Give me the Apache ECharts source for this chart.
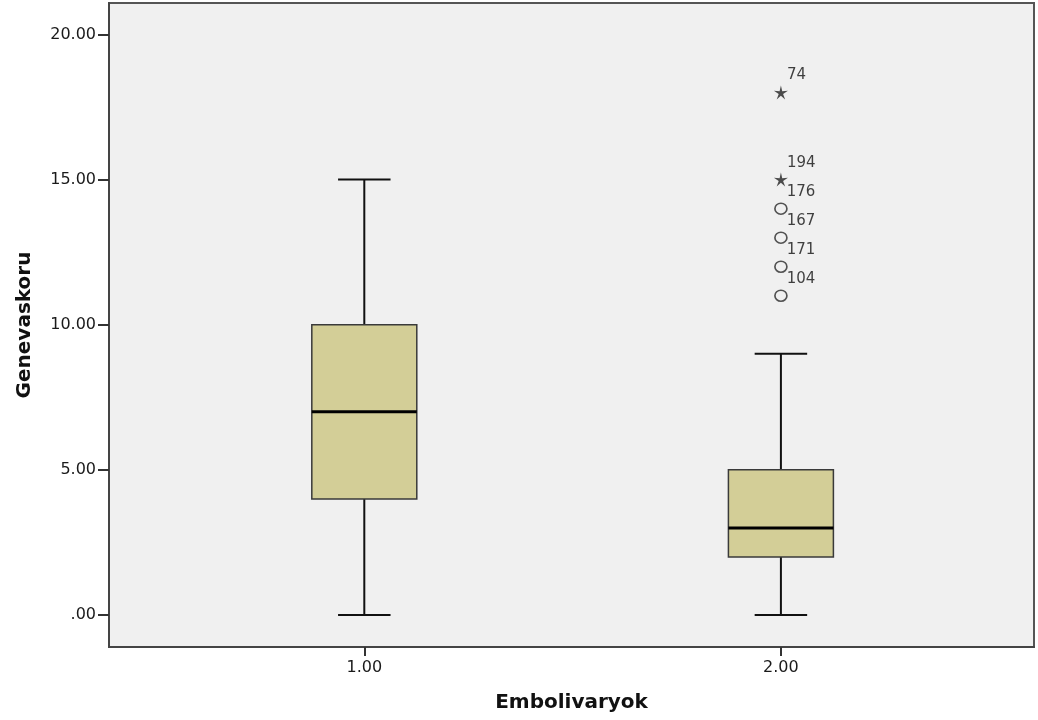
<!DOCTYPE html>
<html>
<head>
<meta charset="utf-8">
<script src="https://cdn.jsdelivr.net/npm/echarts@6/dist/echarts.min.js"></script>
<style>
  html, body { margin: 0; padding: 0; background: #ffffff; }
  #chart { width: 1038px; height: 720px; }
</style>
</head>
<body>
<div id="chart"></div>
<script>
// Group positions on the x scale and their tick labels
const groups = [1, 2];
const groupLabels = ['1.00', '2.00'];

// Five-number summaries per group
const whiskerLow = [0, 0];
const quartile1 = [4, 2];
const medians = [7, 3];
const quartile3 = [10, 5];
const whiskerHigh = [15, 9];

// Outliers (circles) with case numbers
const outlierGroup = [2, 2, 2, 2];
const outlierValues = [11, 12, 13, 14];
const outlierCases = ['104', '171', '167', '176'];

// Extreme values (stars) with case numbers
const extremeGroup = [2, 2];
const extremeValues = [15, 18];
const extremeCases = ['194', '74'];

// Y axis tick values
const yTicks = [0, 5, 10, 15, 20];

const BOX_WIDTH = 0.252;     // box width in x-axis units
const STAR = 'path://M50,0 L59,38 L98,35 L65,57 L79,95 L50,69 L21,95 L35,57 L2,35 L41,38 Z';

const boxData = groups.map((g, i) => [g, whiskerLow[i], quartile1[i], medians[i], quartile3[i], whiskerHigh[i]]);
const outlierData = outlierValues.map((v, i) => ({ name: outlierCases[i], value: [outlierGroup[i], v] }));
const extremeData = extremeValues.map((v, i) => ({ name: extremeCases[i], value: [extremeGroup[i], v] }));

function renderBox(params, api) {
  const x = api.value(0);
  const lo = api.coord([x, api.value(1)]);
  const q1 = api.coord([x, api.value(2)]);
  const md = api.coord([x, api.value(3)]);
  const q3 = api.coord([x, api.value(4)]);
  const hi = api.coord([x, api.value(5)]);
  const w = api.size([BOX_WIDTH, 0])[0];
  const cx = lo[0];
  const hw = w / 2;
  const cw = w / 4;
  const whisker = { stroke: '#111111', lineWidth: 2 };
  return {
    type: 'group',
    children: [
      { type: 'line', shape: { x1: cx, y1: hi[1], x2: cx, y2: q3[1] }, style: whisker },
      { type: 'line', shape: { x1: cx, y1: q1[1], x2: cx, y2: lo[1] }, style: whisker },
      { type: 'line', shape: { x1: cx - cw, y1: hi[1], x2: cx + cw, y2: hi[1] }, style: whisker },
      { type: 'line', shape: { x1: cx - cw, y1: lo[1], x2: cx + cw, y2: lo[1] }, style: whisker },
      { type: 'rect', shape: { x: cx - hw, y: q3[1], width: w, height: q1[1] - q3[1] },
        style: { fill: '#d3ce97', stroke: '#3a3a3a', lineWidth: 1.5 } },
      { type: 'line', shape: { x1: cx - hw, y1: md[1], x2: cx + hw, y2: md[1] },
        style: { stroke: '#000000', lineWidth: 3 } }
    ]
  };
}

const caseLabel = {
  show: true,
  formatter: p => p.name,
  position: 'right',
  distance: 0,
  offset: [-1, -17],
  fontFamily: 'DejaVu Sans',
  fontSize: 15,
  color: '#111111'
};

const chart = echarts.init(document.getElementById('chart'), null, { renderer: 'canvas' });
chart.setOption({
  animation: false,
  backgroundColor: '#ffffff',
  grid: {
    left: 109, right: 4, top: 3, bottom: 73,
    outerBoundsMode: 'none',
    containLabel: false,
    show: true,
    backgroundColor: '#f0f0f0',
    borderColor: '#555555',
    borderWidth: 2
  },
  xAxis: {
    type: 'value',
    min: 0.3872,
    max: 2.6075,
    name: 'Embolivaryok',
    nameLocation: 'middle',
    nameGap: 46,
    nameTextStyle: { fontFamily: 'DejaVu Sans', fontWeight: 'bold', fontSize: 20, color: '#111111' },
    axisLine: { show: true, onZero: false, lineStyle: { color: '#444444', width: 2 } },
    axisTick: { show: true, customValues: groups, length: 9, lineStyle: { color: '#333333', width: 2 } },
    axisLabel: {
      customValues: groups,
      formatter: v => groupLabels[groups.indexOf(v)] ?? v.toFixed(2),
      fontFamily: 'DejaVu Sans', fontSize: 16, color: '#1a1a1a', margin: 13
    },
    splitLine: { show: false }
  },
  yAxis: {
    type: 'value',
    min: -1.1025,
    max: 21.085,
    name: 'Genevaskoru',
    nameLocation: 'middle',
    nameGap: 74,
    nameRotate: 90,
    nameTextStyle: { fontFamily: 'DejaVu Sans', fontWeight: 'bold', fontSize: 20, color: '#111111' },
    axisLine: { show: true, onZero: false, lineStyle: { color: '#444444', width: 2 } },
    axisTick: { show: true, customValues: yTicks, length: 11, lineStyle: { color: '#333333', width: 2 } },
    axisLabel: {
      customValues: yTicks,
      formatter: v => (v === 0 ? '.00' : v.toFixed(2)),
      fontFamily: 'DejaVu Sans', fontSize: 16, color: '#1a1a1a', margin: 13
    },
    splitLine: { show: false }
  },
  series: [
    {
      type: 'custom',
      renderItem: renderBox,
      encode: { x: 0, y: [1, 2, 3, 4, 5] },
      data: boxData,
      z: 2
    },
    {
      type: 'scatter',
      symbol: 'circle',
      symbolSize: [12, 11],
      itemStyle: { color: 'rgba(0,0,0,0)', borderColor: '#2a2a2a', borderWidth: 1.6 },
      label: caseLabel,
      data: outlierData,
      z: 3
    },
    {
      type: 'scatter',
      symbol: STAR,
      symbolSize: 14,
      itemStyle: { color: '#222222' },
      label: caseLabel,
      data: extremeData,
      z: 3
    }
  ]
});
</script>
</body>
</html>
